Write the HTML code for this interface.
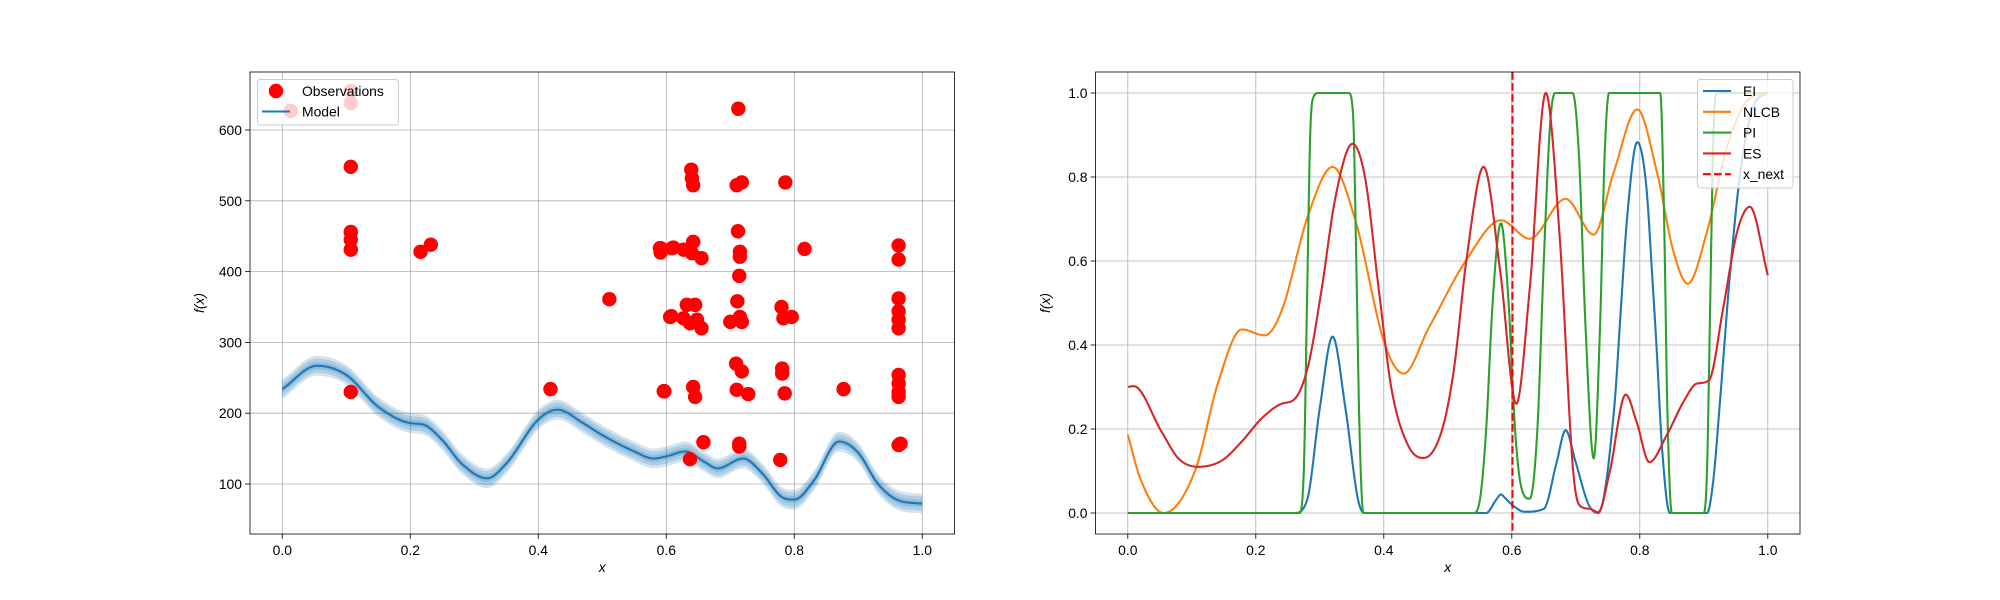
<!DOCTYPE html>
<html><head><meta charset="utf-8"><style>
body{margin:0;background:#fff;}
svg{display:block;font-family:"Liberation Sans","DejaVu Sans",sans-serif;}
</style></head><body>
<svg id="fig" width="2000" height="600" viewBox="0 0 2000 600" xmlns="http://www.w3.org/2000/svg">
<rect width="2000" height="600" fill="#fff"/>
<g id="left"></g>
<g id="right"></g>
</svg>
<script>
// ---- Left chart data ----
const obsX = [0.013,0.107,0.107,0.107,0.107,0.107,0.107,0.107,0.216,0.232,0.419,0.511,0.591,0.591,0.596,0.609,0.606,
0.7125,0.639,0.640,0.642,0.710,0.718,0.786,0.590,0.611,0.627,0.642,0.640,0.655,0.712,0.715,0.715,0.816,0.963,0.963,0.714,
0.608,0.632,0.645,0.627,0.637,0.648,0.655,0.711,0.715,0.700,0.718,0.780,0.783,0.796,0.963,0.963,0.963,0.963,
0.709,0.718,0.781,0.781,0.785,0.597,0.642,0.645,0.710,0.728,0.877,0.963,0.963,0.963,0.963,0.658,0.714,0.714,0.637,0.778,0.963,0.966];
const obsY = [627,655,638,548,456,445,431,230,428,438,234,361,433,427,231,433,336,
630,544,532,522,522,526,526,433,434,431,442,426,419,457,428,421,432,437,417,394,
337,353,353,334,327,332,320,358,336,329,329,350,334,336,362,344,332,320,
270,259,263,256,228,231,237,223,233,227,234,254,242,230,223,159,157,153,135,134,155,157];
const modelX = [0,0.054,0.1,0.15,0.2,0.22,0.25,0.28,0.32,0.35,0.4,0.43,0.47,0.5,0.55,0.58,0.6,0.63,0.66,0.68,0.72,0.75,0.78,0.8,0.83,0.87,0.9,0.93,0.96,1.0];
const modelY = [234,267,254,209,186,184,162,129,108,129,191,205,186,169,146,136,139,146,131,122,136,115,82,78,104,160,144,101,78,72];
const leftXTicks = [0.0,0.2,0.4,0.6,0.8,1.0];
const leftYTicks = [100,200,300,400,500,600];
// ---- Right chart data ----
const eiX = [0,0.26,0.28,0.30,0.32,0.34,0.36,0.37,0.56,0.575,0.583,0.59,0.60,0.62,0.65,0.67,0.684,0.70,0.72,0.735,0.76,0.771,0.78,0.796,0.81,0.82,0.826,0.835,0.847,0.905,0.915,0.925,0.941,0.957,0.978,1.0];
const eiY = [0,0,0.03,0.25,0.42,0.25,0.03,0,0,0.03,0.044,0.035,0.02,0.003,0.01,0.12,0.197,0.12,0.02,0,0.25,0.5,0.7,0.883,0.78,0.55,0.4,0.15,0,0,0.08,0.26,0.57,0.81,0.97,1.0];
const nlcbX = [0,0.02,0.056,0.105,0.141,0.178,0.214,0.24,0.282,0.32,0.355,0.402,0.431,0.47,0.53,0.583,0.628,0.684,0.728,0.759,0.796,0.827,0.853,0.875,0.905,0.936,0.967,1.0];
const nlcbY = [0.186,0.08,0,0.1,0.31,0.437,0.423,0.48,0.71,0.824,0.70,0.4,0.332,0.44,0.605,0.697,0.653,0.748,0.663,0.81,0.961,0.81,0.62,0.546,0.67,0.87,0.98,1.0];
const piX = [0,0.268,0.275,0.28,0.285,0.29,0.298,0.345,0.352,0.357,0.362,0.368,0.54,0.55,0.56,0.57,0.583,0.595,0.605,0.615,0.628,0.64,0.65,0.66,0.668,0.695,0.705,0.715,0.728,0.738,0.745,0.752,0.832,0.838,0.843,0.85,0.9,0.905,0.91,0.915,0.92,1.0];
const piY = [0,0,0.1,0.5,0.9,0.99,1,1,0.95,0.6,0.2,0,0,0.03,0.2,0.5,0.69,0.5,0.2,0.06,0.034,0.2,0.6,0.93,1,1,0.85,0.45,0.13,0.45,0.85,1,1,0.7,0.25,0,0,0.1,0.5,0.9,1,1];
const esX = [0,0.009,0.053,0.079,0.11,0.147,0.178,0.209,0.24,0.261,0.282,0.303,0.324,0.351,0.371,0.392,0.412,0.438,0.462,0.49,0.509,0.53,0.556,0.582,0.607,0.628,0.653,0.675,0.696,0.706,0.722,0.735,0.753,0.778,0.795,0.815,0.842,0.868,0.889,0.908,0.931,0.952,0.972,1.0];
const esY = [0.30,0.302,0.193,0.13,0.11,0.125,0.17,0.225,0.26,0.272,0.352,0.534,0.748,0.879,0.796,0.534,0.296,0.161,0.131,0.193,0.336,0.613,0.824,0.574,0.26,0.534,1.0,0.653,0.098,0.018,0.01,0.002,0.098,0.282,0.217,0.121,0.185,0.264,0.308,0.316,0.494,0.669,0.729,0.566];
const xNext = 0.601;
const rightXTicks = [0.0,0.2,0.4,0.6,0.8,1.0];
const rightYTicks = [0.0,0.2,0.4,0.6,0.8,1.0];

const NS='http://www.w3.org/2000/svg';
function mk(parent,tag,attrs){const e=document.createElementNS(NS,tag);for(const k in attrs)e.setAttribute(k,attrs[k]);parent.appendChild(e);return e;}
function monotone(xs,ys){
  const n=xs.length,d=[],m=new Array(n);
  for(let i=0;i<n-1;i++)d.push((ys[i+1]-ys[i])/(xs[i+1]-xs[i]));
  m[0]=d[0];m[n-1]=d[n-2];
  for(let i=1;i<n-1;i++){m[i]=(d[i-1]*d[i]<=0)?0:(d[i-1]+d[i])/2;}
  for(let i=0;i<n-1;i++){if(d[i]===0){m[i]=0;m[i+1]=0;continue;}const a=m[i]/d[i],b=m[i+1]/d[i],s=a*a+b*b;if(s>9){const t=3/Math.sqrt(s);m[i]=t*a*d[i];m[i+1]=t*b*d[i];}}
  return function(x){let i=0;while(i<n-2&&x>xs[i+1])i++;const h=xs[i+1]-xs[i],t=(x-xs[i])/h,t2=t*t,t3=t2*t;
    return (2*t3-3*t2+1)*ys[i]+(t3-2*t2+t)*h*m[i]+(-2*t3+3*t2)*ys[i+1]+(t3-t2)*h*m[i+1];};
}
function sample(f,N){const p=[];for(let i=0;i<=N;i++){const x=i/N;p.push([x,f(x)]);}return p;}

function axes(g,L,R,T,B,sx,sy,xt,yt,yfmt){
  const grid=mk(g,'g',{});
  
  
  xt.forEach(v=>{mk(grid,'line',{x1:sx(v),x2:sx(v),y1:T,y2:B,stroke:'#b0b0b0','stroke-width':0.8});});
  yt.forEach(v=>{mk(grid,'line',{x1:L,x2:R,y1:sy(v),y2:sy(v),stroke:'#b0b0b0','stroke-width':0.8});});
  const xa=mk(g,'g',{});
  
  
  xt.forEach(v=>{mk(xa,'line',{x1:sx(v),x2:sx(v),y1:B,y2:B+4.9,stroke:'#000','stroke-width':0.8});
    const t=mk(xa,'text',{x:sx(v),y:B+21,'text-anchor':'middle','font-size':'13.9px',fill:'#000'});t.textContent=v.toFixed(1);
    
    });
  const ya=mk(g,'g',{});
  
  
  yt.forEach(v=>{mk(ya,'line',{x1:L-4.9,x2:L,y1:sy(v),y2:sy(v),stroke:'#000','stroke-width':0.8});
    const t=mk(ya,'text',{x:L-8,y:sy(v)+5,'text-anchor':'end','font-size':'13.9px',fill:'#000'});t.textContent=yfmt(v);
    
    });
}
function frame(g,L,R,T,B){const r=mk(g,'rect',{x:L,y:T,width:R-L,height:B-T,fill:'none',stroke:'#000','stroke-width':0.8});
  
  }
function labels(g,L,R,T,B,ylx){
  const xl=mk(g,'text',{x:(L+R)/2,y:572,'text-anchor':'middle','font-size':'13.9px','font-style':'italic'});xl.textContent='x';
  
  
  const yl=mk(g,'text',{x:ylx,y:(T+B)/2,'text-anchor':'middle','font-size':'13.9px','font-style':'italic',transform:`rotate(-90 ${ylx} ${(T+B)/2})`});yl.textContent='f(x)';
  
  
}

// ---- LEFT ----
(function(){
  const g=document.getElementById('left');
  const L=250,R=954.5,T=72,B=534;
  const sx=x=>282.3+x*640, sy=v=>484-(v-100)*0.708;
  axes(g,L,R,T,B,sx,sy,leftXTicks,leftYTicks,v=>String(v));
  const f=monotone(modelX,modelY);const pts=sample(f,400);
  [14,10,5].forEach(w=>{
    const up=pts.map(p=>`${sx(p[0])},${sy(p[1]+w)}`),dn=pts.slice().reverse().map(p=>`${sx(p[0])},${sy(p[1]-w)}`);
    const b=mk(g,'polygon',{points:up.concat(dn).join(' '),fill:'#1f77b4','fill-opacity':0.2,stroke:'none'});
    
    
  });
  const ln=mk(g,'polyline',{points:pts.map(p=>`${sx(p[0])},${sy(p[1])}`).join(' '),fill:'none',stroke:'#1f77b4','stroke-width':2.1});
  
  
  obsX.forEach((x,i)=>{const c=mk(g,'circle',{cx:sx(x),cy:sy(obsY[i]),r:7.2,fill:'#ff0000'});
    
    });
  frame(g,L,R,T,B);labels(g,L,R,T,B,204);
  const lg=mk(g,'g',{});
  
  
  mk(lg,'rect',{x:257.5,y:79.5,width:141,height:45.5,rx:3,fill:'#fff','fill-opacity':0.8,stroke:'#cccccc','stroke-width':1});
  mk(lg,'circle',{cx:276,cy:91,r:7.2,fill:'#ff0000'});
  const t1=mk(lg,'text',{x:302,y:96,'font-size':'13.9px'});t1.textContent='Observations';
  
  
  mk(lg,'line',{x1:262,x2:290,y1:111.5,y2:111.5,stroke:'#1f77b4','stroke-width':2.1});
  const t2=mk(lg,'text',{x:302,y:116.5,'font-size':'13.9px'});t2.textContent='Model';
  
  
})();

// ---- RIGHT ----
(function(){
  const g=document.getElementById('right');
  const L=1095.5,R=1800,T=72,B=534;
  const sx=x=>1127.8+x*640, sy=v=>513-v*420;
  axes(g,L,R,T,B,sx,sy,rightXTicks,rightYTicks,v=>v.toFixed(1));
  const series=[['ei',eiX,eiY,'#1f77b4','EI'],['nlcb',nlcbX,nlcbY,'#ff7f0e','NLCB'],['pi',piX,piY,'#2ca02c','PI'],['es',esX,esY,'#d62728','ES']];
  series.forEach(s=>{const f=monotone(s[1],s[2]);const pts=sample(f,1000);
    const l=mk(g,'polyline',{points:pts.map(p=>`${sx(p[0]).toFixed(2)},${sy(p[1]).toFixed(2)}`).join(' '),fill:'none',stroke:s[3],'stroke-width':2.1,'stroke-linejoin':'round'});
    
    });
  const xn=mk(g,'line',{x1:sx(xNext),x2:sx(xNext),y1:T,y2:B,stroke:'#ff0000','stroke-width':2.1,'stroke-dasharray':'7.7,3.3'});
  
  
  frame(g,L,R,T,B);labels(g,L,R,T,B,1050);
  const lg=mk(g,'g',{});
  
  
  mk(lg,'rect',{x:1697.5,y:79.5,width:95.5,height:108.5,rx:3,fill:'#fff','fill-opacity':0.8,stroke:'#cccccc','stroke-width':1});
  const ent=[['#1f77b4','EI',0],['#ff7f0e','NLCB',0],['#2ca02c','PI',0],['#d62728','ES',0],['#ff0000','x_next',1]];
  ent.forEach((e,i)=>{const y=91+i*20.8;
    const a={x1:1703,x2:1731,y1:y,y2:y,stroke:e[0],'stroke-width':2.1};if(e[2])a['stroke-dasharray']='7.7,3.3';
    mk(lg,'line',a);
    const t=mk(lg,'text',{x:1743,y:y+5,'font-size':'13.9px'});t.textContent=e[1];
    
    });
})();
</script>
</body></html>
